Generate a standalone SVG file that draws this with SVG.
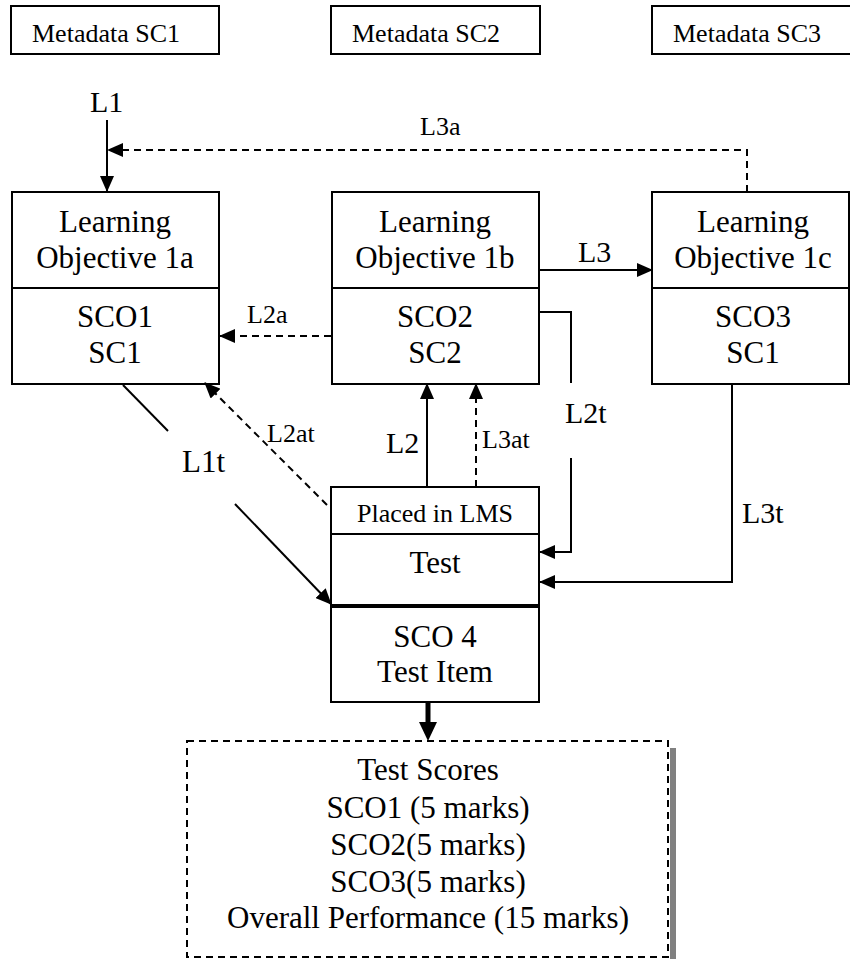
<svg xmlns="http://www.w3.org/2000/svg" width="850" height="959" viewBox="0 0 850 959" font-family="'Liberation Serif', 'DejaVu Serif', serif">
<style>
text{font-family:"Liberation Serif","DejaVu Serif",serif;fill:#000}
.b{fill:#fff;stroke:#000;stroke-width:2}
.t{font-size:31px;text-anchor:middle}
.s{font-size:26px}
.m{font-size:30px}
.c{fill:none;stroke:#000;stroke-width:2}
.d{fill:none;stroke:#000;stroke-width:2;stroke-dasharray:7,5}
</style>
<defs>
<marker id="ah" markerUnits="userSpaceOnUse" markerWidth="16" markerHeight="14" refX="15" refY="7" orient="auto">
<path d="M0,0 L16,7 L0,14 Z" fill="#000"/>
</marker>
</defs>
<rect width="850" height="959" fill="#fff"/>
<g id="meta1"><rect class="b" x="11" y="6" width="208" height="48"/><text class="s" x="32" y="42">Metadata SC1</text></g>
<g id="meta2"><rect class="b" x="331" y="6" width="209" height="48"/><text class="s" x="352" y="42">Metadata SC2</text></g>
<g id="meta3"><rect class="b" x="652" y="6" width="200" height="48"/><text class="s" x="673" y="42">Metadata SC3</text></g>
<g id="lo1a"><rect class="b" x="12" y="192" width="207" height="192"/><line class="c" x1="12" y1="288" x2="219" y2="288"/>
<text class="t" x="115" y="232">Learning</text><text class="t" x="115" y="268">Objective 1a</text>
<text class="t" x="115" y="327">SCO1</text><text class="t" x="115" y="363">SC1</text></g>
<g id="lo1b"><rect class="b" x="332" y="192" width="207" height="192"/><line class="c" x1="332" y1="288" x2="539" y2="288"/>
<text class="t" x="435" y="232">Learning</text><text class="t" x="435" y="268">Objective 1b</text>
<text class="t" x="435" y="327">SCO2</text><text class="t" x="435" y="363">SC2</text></g>
<g id="lo1c"><rect class="b" x="652" y="192" width="197" height="192"/><line class="c" x1="652" y1="288" x2="849" y2="288"/>
<text class="t" x="753" y="232">Learning</text><text class="t" x="753" y="268">Objective 1c</text>
<text class="t" x="753" y="327">SCO3</text><text class="t" x="753" y="363">SC1</text></g>
<g id="test"><rect class="b" x="331" y="487" width="208" height="215"/><line class="c" x1="331" y1="534" x2="539" y2="534"/><line stroke="#000" stroke-width="4" x1="331" y1="606" x2="539" y2="606"/>
<text class="s" x="435" y="522" text-anchor="middle">Placed in LMS</text>
<text class="t" x="435" y="573">Test</text>
<text class="t" x="435" y="647">SCO 4</text><text class="t" x="435" y="682">Test Item</text></g>
<g id="scores"><rect x="670" y="748" width="6" height="211" fill="#808080"/><rect class="d" x="187" y="741" width="481" height="216"/>
<text class="t" x="428" y="780">Test Scores</text>
<text class="t" x="428" y="818">SCO1 (5 marks)</text>
<text class="t" x="428" y="855">SCO2(5 marks)</text>
<text class="t" x="428" y="892">SCO3(5 marks)</text>
<text class="t" x="428" y="928">Overall Performance (15 marks)</text></g>
<g id="connectors">
<line class="c" x1="107" y1="120" x2="107" y2="191" marker-end="url(#ah)"/>
<polyline class="d" points="747,192 747,150 108,150" marker-end="url(#ah)"/>
<line class="c" x1="539" y1="270" x2="652" y2="270" marker-end="url(#ah)"/>
<line class="d" x1="331" y1="336" x2="220" y2="336" marker-end="url(#ah)"/>
<polyline class="c" points="539,312 571,312 571,383"/>
<polyline class="c" points="571,458 571,552 540,552" marker-end="url(#ah)"/>
<polyline class="c" points="732,384 732,582 540,582" marker-end="url(#ah)"/>
<line class="c" x1="123" y1="385" x2="168" y2="431"/>
<line class="c" x1="235" y1="504" x2="331" y2="604" marker-end="url(#ah)"/>
<line class="d" x1="327" y1="505" x2="205" y2="383" marker-end="url(#ah)"/>
<line class="c" x1="427" y1="487" x2="427" y2="384" marker-end="url(#ah)"/>
<line class="d" x1="476" y1="487" x2="476" y2="384" marker-end="url(#ah)"/>
<line stroke="#000" stroke-width="5" x1="428" y1="702" x2="428" y2="725"/>
<path d="M419,722 L437,722 L428,741 Z" fill="#000"/>
<text class="m" x="90" y="112">L1</text>
<text class="s" x="420" y="135">L3a</text>
<text class="m" x="578" y="262">L3</text>
<text class="s" x="247" y="323">L2a</text>
<text class="s" x="267" y="442">L2at</text>
<text x="182" y="472" font-size="31">L1t</text>
<text class="m" x="386" y="453">L2</text>
<text class="s" x="482" y="448">L3at</text>
<text class="m" x="565" y="423">L2t</text>
<text class="m" x="742" y="523">L3t</text>
</g>
</svg>
